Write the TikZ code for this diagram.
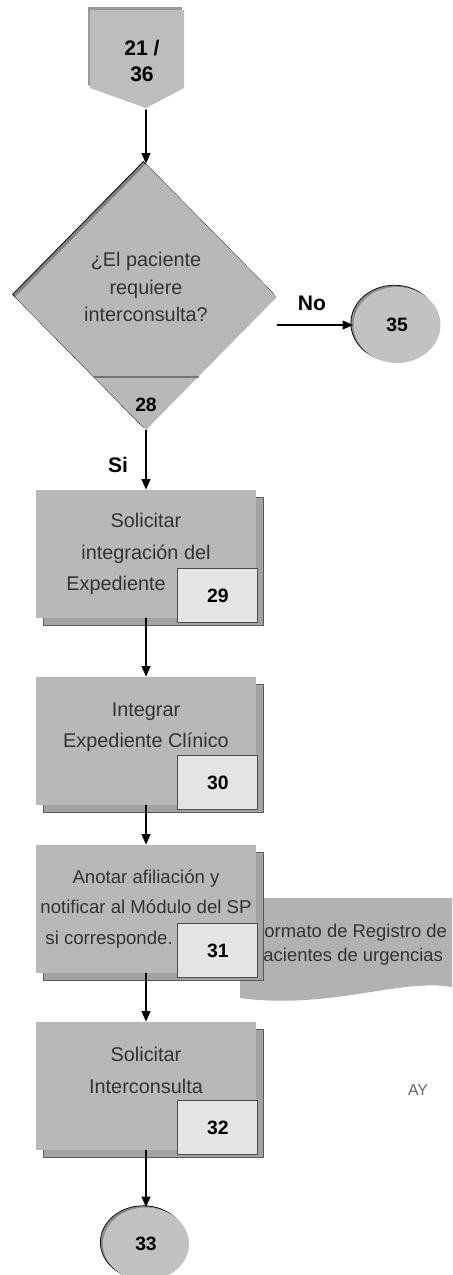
\documentclass[tikz,border=0pt]{standalone}
\usepackage{fontspec}
\setmainfont{Liberation Sans}
\usetikzlibrary{shapes.geometric,shadows,arrows.meta}

\begin{document}
\begin{tikzpicture}[
  x=0.02cm,
  y=-0.02cm,
  line cap=round,
  line join=round,
  flecha/.style={-{Triangle[length=6pt,width=5pt]}, line width=0.9pt},
  proceso/.style={rectangle, fill=black!28, minimum width=4.4cm,
    minimum height=2.56cm, inner sep=2pt, align=center, text=black!80,
    font=\fontsize{11.3}{18}\selectfont,
    copy shadow={shadow xshift=4pt, shadow yshift=-4pt, fill=black!36,
      draw=black!65, line width=0.5pt}},
  numero/.style={rectangle, fill=black!10, draw=black!70, line width=0.6pt,
    minimum width=1.6cm, minimum height=1.08cm, anchor=south east,
    font=\fontsize{11}{13}\bfseries\selectfont},
  conector/.style={ellipse, fill=black!24, inner sep=0pt,
    font=\fontsize{11}{13}\bfseries\selectfont,
    copy shadow={shadow xshift=-1.5pt, shadow yshift=1pt, fill=black!45}},
  etiqueta/.style={font=\fontsize{12}{14}\bfseries\selectfont}
]
  \useasboundingbox (0,0) rectangle (453,1275);

  % Переход со страницы 21 / 36
  \fill[black!40] (88,7) -- (182,7) -- (182,85) -- (144,105) -- (88,85) -- cycle;
  \fill[black!26] (90,10) -- (184,10) -- (184,88) -- (146,108) -- (90,88) -- cycle;
  \node[font=\fontsize{12}{15}\bfseries\selectfont, align=center] (ini) at (142,61) {21 /\\36};
  \coordinate (tip) at (146,110);

  % Решение 28
  \node[diamond, fill=black!28, minimum width=5.24cm, minimum height=5.32cm,
    inner sep=0pt, copy shadow={shadow xshift=-1.5pt, shadow yshift=1.5pt, fill=black!50}]
    (dec) at (146,297) {};
  \node[align=center, text=black!80, font=\fontsize{11.3}{15.5}\selectfont]
    (preg) at (146,287) {¿El paciente\\requiere\\interconsulta?};
  \draw[black!55, line width=1.2pt] (94,377) -- (198,377);
  \node[font=\fontsize{11}{13}\bfseries\selectfont] (n28) at (146,405) {28};

  % Ветка «No»
  \node[conector, minimum width=1.74cm, minimum height=1.52cm] (c35) at (397,325) {35};
  \node[etiqueta] (no) at (312,303) {No};

  % Формат (документ)
  \fill[black!30] (240,898) -- (452,898) -- (452,987)
    .. controls (400,978) and (330,1010) .. (240,998) -- cycle;
  \node[anchor=west, align=left, text=black!80, font=\fontsize{10.5}{13.6}\selectfont]
    (doc) at (247,945) {Formato de Registro de\\pacientes de urgencias};

  % Процессы 29 -- 32
  \node[etiqueta] (si) at (118,465) {Si};
  \node[proceso] (b29) at (146,554) {Solicitar\\integración del\\Expediente\hspace*{34pt}};
  \node[numero] (n29) at ([shift={(2,5)}]b29.south east) {29};

  \node[proceso] (b30) at (146,741) {Integrar\\Expediente Clínico\\ \mbox{}};
  \node[numero] (n30) at ([shift={(2,5)}]b30.south east) {30};

  \node[proceso, font=\fontsize{10.6}{17.5}\selectfont] (b31) at (146,909)
    {Anotar afiliación y\\notificar al Módulo del SP\\si corresponde.\hspace*{42pt}};
  \node[numero] (n31) at ([shift={(2,5)}]b31.south east) {31};

  \node[proceso] (b32) at (146,1086) {Solicitar\\Interconsulta\\ \mbox{}};
  \node[numero] (n32) at ([shift={(2,5)}]b32.south east) {32};

  % Конец
  \node[conector, minimum width=1.72cm, minimum height=1.46cm] (c33) at (146,1244) {33};
  \node[text=black!60, font=\fontsize{9}{11}\selectfont] (ay) at (418,1090) {AY};

  % Стрелки
  \draw[flecha] (tip) -- (dec.north);
  \draw[flecha] (dec.east |- c35) -- (c35.west);
  \draw[flecha] (dec.south) -- (b29.north);
  \draw[flecha] (b29.south) -- (b30.north);
  \draw[flecha] (b30.south) -- (b31.north);
  \draw[flecha] (b31.south) -- (b32.north);
  \draw[flecha] (b32.south) -- (c33.north);
\end{tikzpicture}
\end{document}
